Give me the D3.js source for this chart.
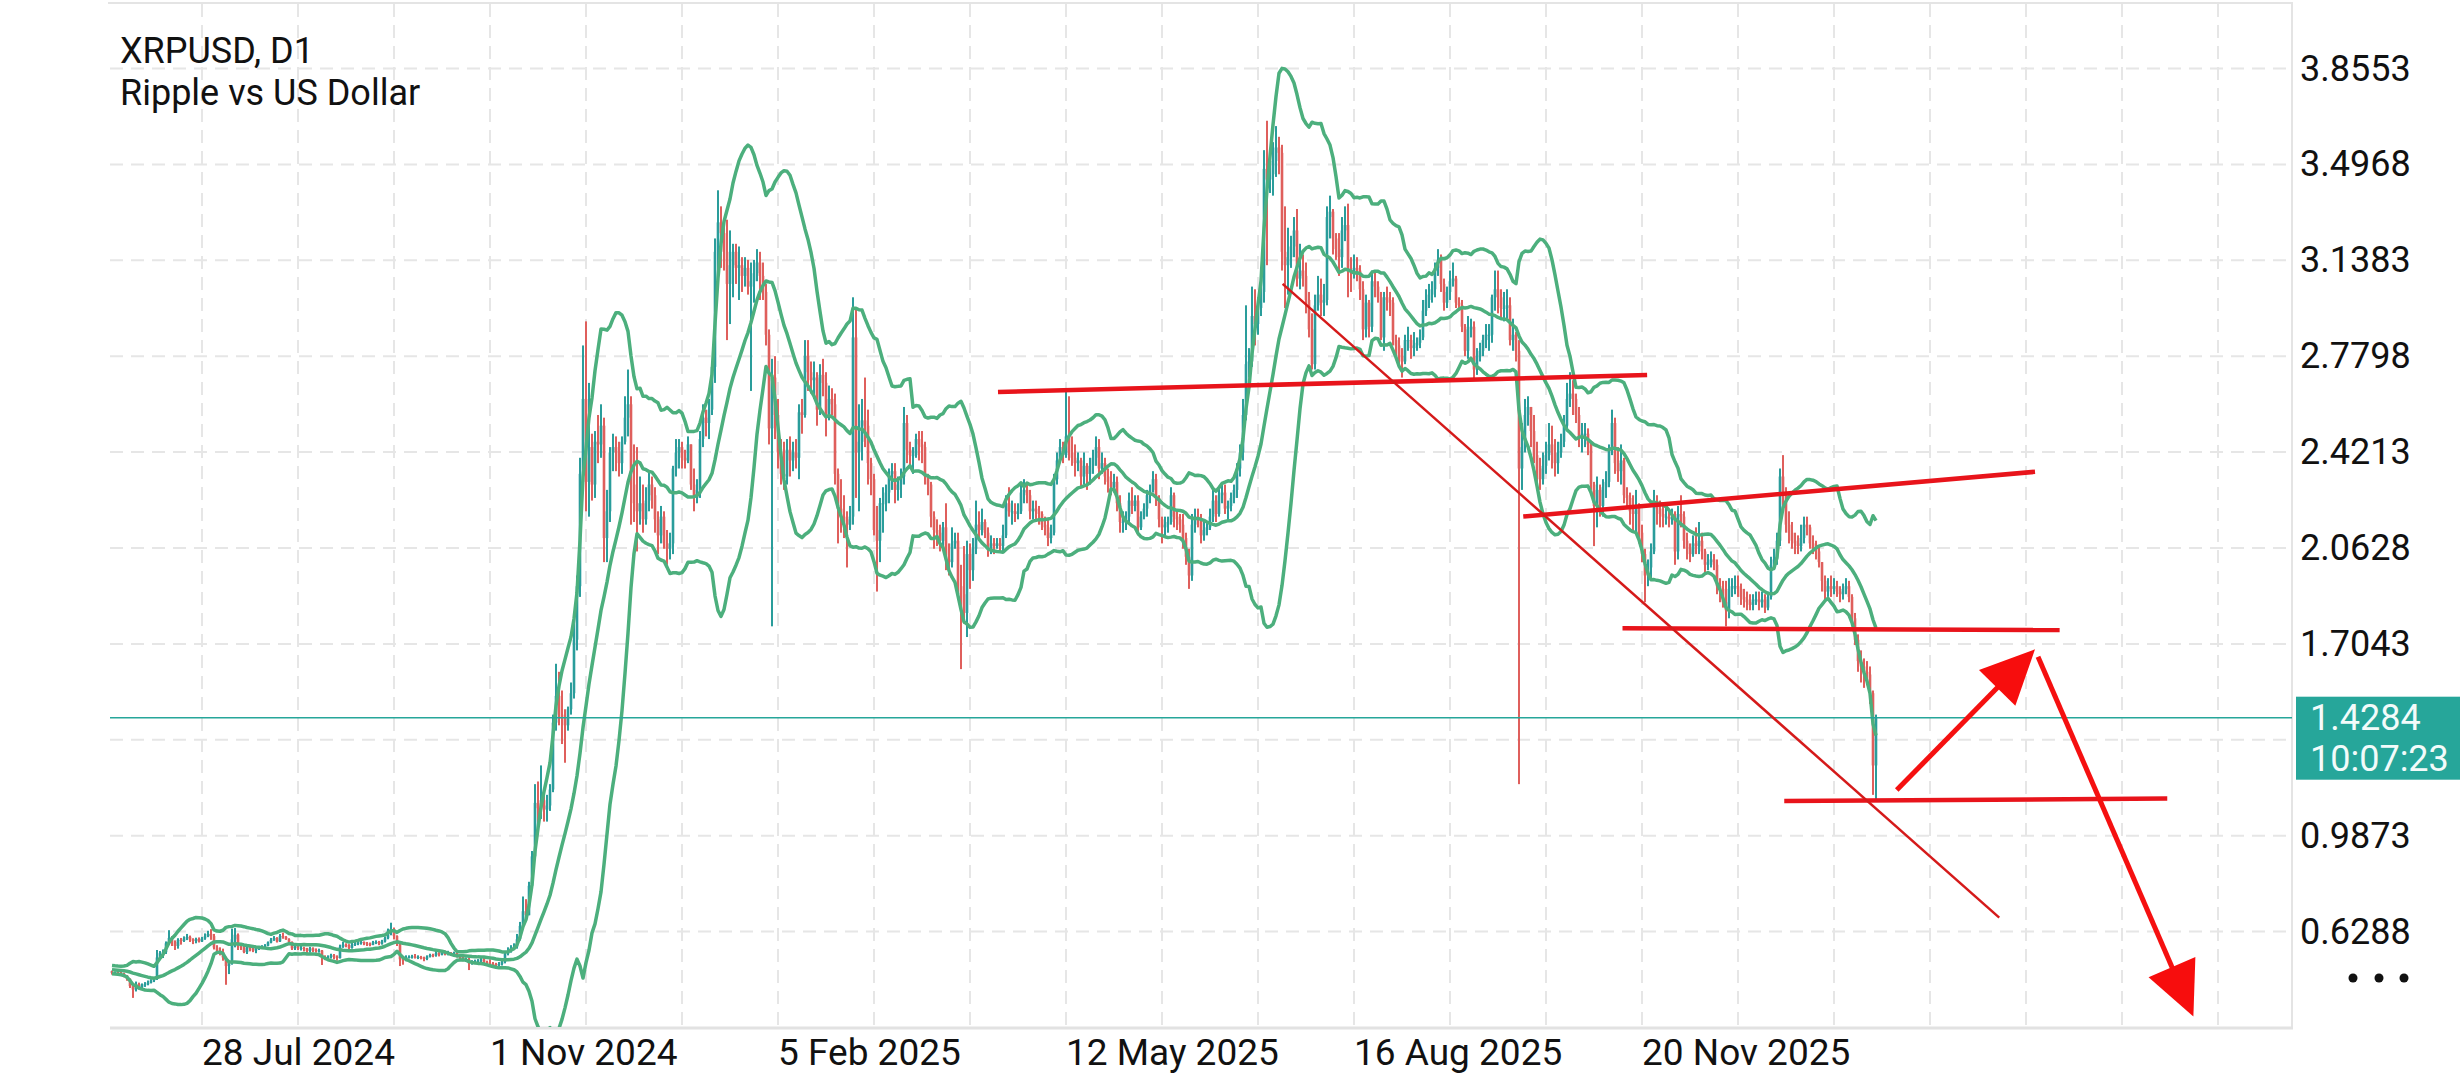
<!DOCTYPE html>
<html>
<head>
<meta charset="utf-8">
<title>XRPUSD, D1</title>
<script src="https://cdn.jsdelivr.net/npm/d3@7"></script>
<style>
  body { margin: 0; background: #fff; }
  text { font-family: Roboto, "Noto Sans", sans-serif; }
</style>
</head>
<body>
<div id="chart"></div>
<script>
// daily candles, first one on 9 Jun 2024 (the first 19 only feed the bands)
var firstDay = "2024-06-09";

var closes = [
  // Jun 2024 (9-30)
  0.497,0.495,0.490,0.491,0.485,0.481,0.492,0.498,0.484,0.493,0.491,0.494,0.490,0.490,0.476,0.473,0.481,0.475,0.480,0.476,0.476,0.474,
  // Jul 2024
  0.471,0.465,0.452,0.425,0.412,0.433,0.420,0.430,0.432,0.438,0.446,0.452,0.532,0.548,0.552,0.585,0.605,0.590,0.575,0.598,0.594,0.603,0.609,0.598,0.594,0.601,0.592,0.603,0.611,0.620,0.612,
  // Aug 2024
  0.569,0.558,0.552,0.532,0.500,0.512,0.600,0.617,0.573,0.570,0.552,0.570,0.565,0.558,0.565,0.568,0.572,0.576,0.588,0.598,0.605,0.592,0.612,0.609,0.600,0.590,0.566,0.573,0.568,0.568,0.565,
  // Sep 2024
  0.556,0.566,0.560,0.556,0.558,0.535,0.530,0.534,0.540,0.535,0.530,0.572,0.580,0.578,0.568,0.580,0.583,0.586,0.590,0.585,0.582,0.580,0.588,0.590,0.584,0.592,0.604,0.632,0.638,0.612,
  // Oct 2024
  0.587,0.525,0.522,0.533,0.534,0.536,0.533,0.534,0.530,0.527,0.535,0.541,0.540,0.548,0.543,0.550,0.546,0.550,0.545,0.548,0.538,0.532,0.525,0.525,0.510,0.515,0.518,0.520,0.525,0.515,0.510,
  // Nov 2024
  0.508,0.507,0.503,0.508,0.515,0.545,0.555,0.568,0.572,0.600,0.650,0.705,0.690,0.800,0.910,1.110,1.090,1.120,1.085,1.100,1.160,1.410,1.510,1.440,1.425,1.400,1.460,1.520,1.720,1.920,
  // Dec 2024
  2.340,2.620,2.310,2.440,2.300,2.460,2.450,2.520,2.100,2.200,2.420,2.440,2.420,2.380,2.460,2.550,2.600,2.300,2.230,2.200,2.230,2.170,2.240,2.300,2.260,2.170,2.110,2.180,2.080,2.060,2.080,
  // Jan 2025
  2.360,2.420,2.440,2.400,2.390,2.450,2.300,2.250,2.280,2.470,2.550,2.530,2.580,2.740,3.170,3.280,3.240,3.170,3.050,3.120,3.170,3.110,3.120,3.080,3.110,3.040,3.060,3.090,3.130,3.080,3.020,
  // Feb 2025
  2.860,2.510,2.700,2.560,2.420,2.340,2.330,2.430,2.390,2.420,2.400,2.570,2.560,2.780,2.720,2.690,2.700,2.580,2.710,2.680,2.560,2.620,2.600,2.340,2.210,2.180,2.170,2.150,
  // Mar 2025
  2.180,2.850,2.420,2.460,2.540,2.520,2.380,2.320,2.130,2.090,2.230,2.230,2.270,2.340,2.350,2.280,2.300,2.330,2.530,2.430,2.410,2.410,2.470,2.450,2.440,2.330,2.300,2.180,2.130,2.120,2.090,
  // Apr 2025
  2.140,2.020,2.010,2.080,2.090,1.920,1.890,1.820,2.040,1.980,2.060,2.150,2.130,2.160,2.120,2.060,2.080,2.070,2.080,2.070,2.110,2.230,2.200,2.200,2.190,2.200,2.270,2.280,2.260,2.200,
  // May 2025
  2.210,2.200,2.190,2.150,2.140,2.100,2.120,2.320,2.390,2.440,2.410,2.480,2.420,2.400,2.380,2.390,2.330,2.370,2.340,2.370,2.400,2.440,2.360,2.380,2.330,2.310,2.290,2.310,2.230,2.160,2.160,
  // Jun 2025
  2.180,2.240,2.220,2.240,2.140,2.180,2.210,2.260,2.280,2.320,2.250,2.170,2.140,2.150,2.160,2.260,2.180,2.170,2.150,2.100,2.030,1.960,2.150,2.180,2.170,2.110,2.130,2.140,2.180,2.240,
  // Jul 2025
  2.190,2.260,2.270,2.210,2.220,2.250,2.280,2.360,2.420,2.560,2.750,2.760,2.930,2.900,2.960,3.020,3.480,3.440,3.460,3.510,3.560,3.540,3.170,3.120,3.150,3.190,3.250,3.070,3.100,3.080,2.990,
  // Aug 2025
  2.880,2.750,2.970,3.010,2.980,2.990,3.300,3.320,3.220,3.180,3.150,3.250,3.270,3.100,3.090,3.110,3.100,3.030,2.880,2.980,2.890,3.060,3.040,3.000,2.850,3.000,2.990,2.980,2.840,2.820,2.780,
  // Sep 2025
  2.760,2.840,2.840,2.810,2.820,2.830,2.850,2.950,2.990,3.010,3.030,3.110,3.140,3.050,2.980,3.020,3.060,3.070,2.980,2.970,2.890,2.800,2.880,2.890,2.730,2.780,2.800,2.840,2.860,2.860,
  // Oct 2025
  3.000,3.030,3.000,2.960,2.960,2.970,2.840,2.860,2.800,2.360,2.440,2.560,2.590,2.500,2.410,2.360,2.320,2.370,2.410,2.450,2.420,2.380,2.420,2.460,2.520,2.620,2.640,2.620,2.560,2.480,2.490,
  // Nov 2025
  2.490,2.450,2.300,2.220,2.280,2.220,2.290,2.310,2.430,2.530,2.380,2.350,2.390,2.260,2.250,2.200,2.190,2.220,2.120,2.040,1.960,1.990,2.050,2.230,2.210,2.190,2.180,2.180,2.170,2.180,
  // Dec 2025
  2.050,2.190,2.180,2.090,2.060,2.040,2.080,2.070,2.090,2.050,2.000,2.010,2.020,2.000,1.920,1.910,1.860,1.830,1.910,1.920,1.920,1.910,1.880,1.870,1.860,1.850,1.870,1.870,1.860,1.870,1.840,
  // Jan 2026
  1.880,2.000,2.020,2.090,2.330,2.270,2.150,2.120,2.090,2.080,2.070,2.100,2.150,2.140,2.080,2.060,2.050,2.010,1.940,1.900,1.920,1.910,1.920,1.900,1.890,1.910,1.920,1.880,1.800,1.720,1.640,
  // Feb 2026 (1-6)
  1.620,1.600,1.590,1.520,1.250,1.4284
];

var highs = [
  0.500,0.500,0.497,0.496,0.494,0.488,0.495,0.502,0.500,0.496,0.497,0.499,0.496,0.494,0.492,0.480,0.488,0.484,0.486,0.483,0.480,0.482,
  0.479,0.475,0.466,0.454,0.432,0.442,0.438,0.435,0.440,0.446,0.451,0.458,0.560,0.556,0.562,0.592,0.634,0.612,0.596,0.604,0.605,0.611,0.620,0.614,0.604,0.606,0.607,0.609,0.622,0.632,0.638,
  0.620,0.578,0.570,0.565,0.535,0.520,0.640,0.642,0.622,0.580,0.575,0.578,0.575,0.570,0.572,0.575,0.578,0.582,0.592,0.605,0.612,0.608,0.620,0.625,0.612,0.604,0.592,0.580,0.582,0.575,0.572,
  0.568,0.572,0.570,0.566,0.565,0.560,0.540,0.540,0.546,0.545,0.540,0.580,0.590,0.585,0.582,0.588,0.592,0.595,0.598,0.592,0.590,0.588,0.594,0.596,0.594,0.598,0.610,0.640,0.662,0.644,
  0.615,0.590,0.535,0.540,0.540,0.542,0.545,0.540,0.538,0.535,0.540,0.546,0.546,0.556,0.552,0.556,0.558,0.557,0.552,0.554,0.552,0.542,0.535,0.532,0.530,0.522,0.524,0.526,0.530,0.530,0.520,
  0.525,0.515,0.512,0.515,0.522,0.555,0.570,0.578,0.585,0.620,0.665,0.760,0.750,0.815,0.930,1.180,1.190,1.250,1.160,1.140,1.180,1.440,1.630,1.600,1.530,1.460,1.470,1.560,1.780,1.960,
  2.400,2.820,2.910,2.680,2.490,2.500,2.560,2.600,2.550,2.280,2.440,2.490,2.480,2.460,2.480,2.630,2.730,2.630,2.450,2.440,2.330,2.300,2.290,2.350,2.330,2.290,2.200,2.220,2.200,2.130,2.120,
  2.370,2.470,2.470,2.460,2.430,2.480,2.420,2.360,2.320,2.500,2.600,2.580,2.620,2.760,3.220,3.400,3.340,3.280,3.290,3.250,3.200,3.200,3.190,3.150,3.150,3.140,3.130,3.140,3.180,3.170,3.130,
  3.050,2.880,2.770,2.780,2.620,2.470,2.460,2.470,2.480,2.460,2.470,2.600,2.620,2.840,2.840,2.760,2.760,2.720,2.750,2.770,2.720,2.670,2.660,2.640,2.360,2.320,2.260,2.200,
  2.220,3.000,2.960,2.600,2.620,2.700,2.580,2.400,2.340,2.220,2.250,2.290,2.300,2.360,2.380,2.380,2.330,2.360,2.590,2.560,2.460,2.440,2.490,2.500,2.500,2.460,2.340,2.310,2.200,2.170,2.150,
  2.160,2.230,2.080,2.140,2.120,2.120,2.000,2.070,2.090,2.080,2.100,2.240,2.200,2.210,2.170,2.140,2.110,2.100,2.100,2.100,2.150,2.260,2.290,2.240,2.230,2.230,2.310,2.320,2.300,2.280,
  2.240,2.240,2.220,2.200,2.180,2.170,2.150,2.340,2.420,2.470,2.460,2.650,2.630,2.480,2.450,2.420,2.400,2.420,2.380,2.400,2.430,2.480,2.470,2.420,2.400,2.360,2.350,2.340,2.330,2.260,2.200,
  2.200,2.270,2.290,2.260,2.260,2.200,2.230,2.280,2.300,2.350,2.340,2.260,2.180,2.180,2.180,2.290,2.270,2.200,2.190,2.190,2.120,2.060,2.190,2.210,2.210,2.190,2.160,2.160,2.210,2.280,
  2.260,2.290,2.300,2.300,2.240,2.270,2.300,2.380,2.450,2.620,2.970,2.810,3.040,3.030,3.000,3.090,3.550,3.660,3.520,3.580,3.640,3.600,3.570,3.340,3.260,3.230,3.300,3.330,3.200,3.160,3.130,
  3.020,2.940,3.010,3.080,3.070,3.050,3.340,3.380,3.330,3.240,3.240,3.300,3.340,3.350,3.150,3.160,3.150,3.120,3.060,3.010,2.990,3.100,3.100,3.060,3.020,3.020,3.040,3.020,3.000,2.860,2.850,
  2.810,2.860,2.890,2.860,2.870,2.850,2.880,2.990,3.030,3.050,3.060,3.130,3.180,3.160,3.070,3.040,3.100,3.130,3.080,3.000,2.990,2.900,2.930,2.920,2.910,2.810,2.830,2.860,2.900,2.900,
  3.010,3.100,3.100,3.030,3.020,3.030,3.000,2.920,2.870,2.840,2.530,2.620,2.630,2.590,2.560,2.460,2.400,2.420,2.460,2.530,2.520,2.470,2.460,2.490,2.560,2.680,2.720,2.690,2.640,2.590,2.530,
  2.530,2.510,2.460,2.310,2.330,2.300,2.320,2.350,2.450,2.580,2.550,2.440,2.450,2.400,2.290,2.270,2.260,2.280,2.230,2.150,2.060,2.020,2.080,2.280,2.260,2.240,2.230,2.230,2.210,2.210,
  2.200,2.220,2.260,2.200,2.120,2.080,2.110,2.140,2.160,2.120,2.060,2.040,2.050,2.040,2.020,1.950,1.940,1.940,1.950,1.950,1.960,1.960,1.930,1.910,1.900,1.890,1.890,1.900,1.900,1.900,1.890,
  1.900,2.030,2.060,2.120,2.360,2.410,2.290,2.200,2.160,2.120,2.110,2.150,2.180,2.180,2.150,2.110,2.090,2.070,2.010,1.960,1.950,1.960,1.950,1.940,1.920,1.930,1.950,1.940,1.890,1.820,1.740,
  1.680,1.650,1.640,1.620,1.530,1.440
];

var lows = [
  0.490,0.488,0.481,0.485,0.480,0.470,0.478,0.488,0.475,0.480,0.486,0.486,0.485,0.485,0.472,0.462,0.470,0.471,0.472,0.468,0.470,0.470,
  0.463,0.458,0.445,0.418,0.381,0.405,0.412,0.415,0.422,0.428,0.435,0.440,0.448,0.522,0.530,0.545,0.579,0.575,0.560,0.565,0.580,0.590,0.597,0.590,0.582,0.585,0.588,0.590,0.598,0.608,0.598,
  0.562,0.548,0.540,0.520,0.430,0.470,0.505,0.570,0.560,0.560,0.548,0.545,0.555,0.552,0.548,0.560,0.565,0.568,0.574,0.585,0.594,0.588,0.590,0.602,0.598,0.585,0.560,0.560,0.560,0.558,0.555,
  0.548,0.550,0.552,0.550,0.550,0.504,0.522,0.524,0.528,0.525,0.520,0.528,0.568,0.570,0.560,0.565,0.575,0.578,0.580,0.578,0.575,0.574,0.578,0.582,0.578,0.580,0.588,0.600,0.615,0.600,
  0.575,0.500,0.505,0.518,0.528,0.528,0.528,0.526,0.525,0.518,0.522,0.532,0.533,0.535,0.536,0.540,0.540,0.540,0.540,0.540,0.532,0.522,0.518,0.515,0.485,0.505,0.510,0.512,0.515,0.508,0.500,
  0.500,0.495,0.490,0.495,0.502,0.510,0.540,0.550,0.560,0.565,0.595,0.640,0.670,0.700,0.790,0.900,1.020,1.050,1.040,1.040,1.080,1.150,1.380,1.400,1.330,1.260,1.380,1.440,1.500,1.680,
  1.880,2.300,2.200,2.180,2.240,2.250,2.380,2.400,2.010,2.010,2.160,2.350,2.350,2.330,2.340,2.450,2.480,2.150,2.160,2.050,2.150,2.120,2.150,2.200,2.210,2.120,2.040,2.080,2.060,2.000,2.020,
  2.040,2.330,2.360,2.360,2.360,2.380,2.280,2.200,2.230,2.250,2.440,2.480,2.470,2.560,2.680,3.050,3.110,3.100,2.840,2.900,3.000,3.050,2.990,3.020,3.040,3.010,2.650,2.980,3.060,2.990,2.990,
  2.820,2.450,1.770,2.470,2.360,2.300,2.280,2.300,2.330,2.350,2.360,2.320,2.490,2.550,2.650,2.640,2.620,2.520,2.560,2.630,2.480,2.540,2.560,2.300,2.080,2.120,2.100,1.990,
  2.130,2.150,2.250,2.200,2.390,2.440,2.300,2.260,2.110,1.900,2.010,2.120,2.200,2.230,2.280,2.230,2.240,2.250,2.300,2.380,2.370,2.340,2.400,2.390,2.380,2.300,2.260,2.140,2.060,2.070,2.050,
  2.070,1.980,1.960,1.990,2.060,1.880,1.610,1.780,1.730,1.910,1.940,2.040,2.100,2.110,2.100,2.030,2.040,2.040,2.060,2.050,2.050,2.100,2.180,2.150,2.160,2.170,2.190,2.230,2.230,2.170,
  2.170,2.160,2.150,2.130,2.110,2.070,2.080,2.110,2.300,2.380,2.380,2.400,2.390,2.370,2.330,2.350,2.290,2.300,2.280,2.300,2.340,2.370,2.320,2.340,2.300,2.270,2.260,2.270,2.200,2.120,2.120,
  2.130,2.150,2.190,2.200,2.110,2.130,2.170,2.180,2.230,2.270,2.220,2.140,2.080,2.110,2.120,2.150,2.140,2.130,2.120,2.060,2.000,1.910,1.940,2.120,2.140,2.080,2.090,2.110,2.130,2.160,
  2.160,2.180,2.230,2.190,2.170,2.200,2.230,2.250,2.330,2.390,2.540,2.700,2.740,2.820,2.860,2.930,2.980,3.120,3.390,3.380,3.450,3.460,3.100,2.960,3.010,3.110,3.150,3.040,3.030,3.040,2.940,
  2.850,2.730,2.730,2.950,2.930,2.930,2.970,3.220,3.160,3.140,3.080,3.110,3.210,3.000,3.020,3.070,3.060,2.990,2.840,2.850,2.850,2.870,3.000,2.980,2.840,2.800,2.950,2.930,2.820,2.770,2.740,
  2.700,2.750,2.800,2.770,2.780,2.800,2.810,2.840,2.930,2.960,2.980,3.000,3.080,3.020,2.950,2.960,2.990,3.040,2.960,2.950,2.870,2.780,2.770,2.850,2.690,2.710,2.760,2.780,2.810,2.800,
  2.830,2.950,2.940,2.920,2.910,2.920,2.820,2.800,2.760,1.180,2.280,2.420,2.520,2.440,2.380,2.310,2.280,2.300,2.340,2.390,2.360,2.330,2.340,2.400,2.440,2.510,2.590,2.560,2.530,2.440,2.420,
  2.440,2.410,2.280,2.070,2.140,2.180,2.180,2.250,2.290,2.410,2.340,2.310,2.300,2.230,2.210,2.150,2.130,2.120,2.080,2.010,1.860,1.920,1.950,2.040,2.150,2.140,2.140,2.150,2.140,2.150,
  2.000,2.020,2.140,2.060,2.020,2.010,2.030,2.040,2.040,2.020,1.970,1.980,1.990,1.980,1.890,1.860,1.840,1.770,1.800,1.880,1.890,1.880,1.850,1.840,1.830,1.830,1.830,1.850,1.830,1.840,1.820,
  1.830,1.870,1.980,2.000,2.070,2.220,2.120,2.080,2.060,2.040,2.040,2.050,2.080,2.110,2.060,2.040,2.020,1.990,1.900,1.870,1.880,1.880,1.890,1.880,1.860,1.870,1.890,1.860,1.790,1.700,1.600,
  1.560,1.540,1.550,1.480,1.140,1.120
];

// price scale: grid levels, and the labels the scale shows (1.3458 sits under the price box)
var priceTicks = [3.8553, 3.4968, 3.1383, 2.7798, 2.4213, 2.0628, 1.7043, 1.3458, 0.9873, 0.6288];
var priceLabels = ["3.8553", "3.4968", "3.1383", "2.7798", "2.4213", "2.0628", "1.7043", "0.9873", "0.6288"];
var dateLabels = ["28 Jul 2024", "1 Nov 2024", "5 Feb 2025", "12 May 2025", "16 Aug 2025", "20 Nov 2025"];
var gridDays = 32;   // vertical grid every 32 days, a label every third line
var gridCount = 22;

// visible window
var viewFrom = "2024-06-27T08:00", viewTo = "2026-06-24T08:00";
var priceFrom = 0.2684, priceTo = 4.0927;

var lastPrice = 1.4284;
var lastTime = "10:07:23";

// hand drawn levels (date, price)
var levelLines = [
  [["2025-04-19T08:00", 2.646], ["2025-11-21T17:00", 2.7095]],
  [["2025-10-11T10:00", 2.1805], ["2026-03-31T00:00", 2.3477]],
  [["2025-11-13T12:00", 1.7626], ["2026-04-08T05:00", 1.7559]],
  [["2026-01-06T10:00", 1.1170], ["2026-05-14T02:00", 1.1263]]
];
var trendLine = [["2025-07-23T05:00", 3.050], ["2026-03-19T02:00", 0.681]];
var arrows = [
  [["2026-02-12T22:00", 1.158], ["2026-03-31T00:00", 1.684]],
  [["2026-04-01T00:00", 1.656], ["2026-05-22T19:00", 0.311]]
];

function init(){

  var W = 2460, H = 1080;
  var left = 110, right = 2292, top = 4, bottom = 1028;

  var svg = d3.select("#chart")
    .append("svg")
      .attr("width", W)
      .attr("height", H)
      .style("display", "block");

  var parseT = d3.utcParse("%Y-%m-%dT%H:%M");
  var parseD = d3.utcParse("%Y-%m-%d");
  var parseLabel = d3.utcParse("%d %b %Y");

  var x = d3.scaleUtc()
    .domain([parseT(viewFrom), parseT(viewTo)])
    .range([left, right - 1]);
  var y = d3.scaleLinear()
    .domain([priceFrom, priceTo])
    .range([bottom, top + 1]);

  // build candles, open = previous close
  var start = parseD(firstDay);
  var candles = closes.map(function(c, i){
    var o = i > 0 ? closes[i - 1] : c;
    return {
      date: d3.utcDay.offset(start, i),
      o: o, c: c,
      h: Math.max(highs[i], o, c),
      l: Math.min(lows[i], o, c)
    };
  });

  // bollinger bands 20, 2
  var bands = [];
  for (var i = 19; i < closes.length; i++){
    var win = closes.slice(i - 19, i + 1);
    var m = d3.mean(win);
    var sd = Math.sqrt(d3.mean(win, function(v){ return (v - m) * (v - m); }));
    bands.push({date: candles[i].date, mid: m, up: m + 2 * sd, lo: m - 2 * sd});
  }

  // grid
  var grid = svg.append("g");
  grid.selectAll("hgrid")
    .data(priceTicks)
    .enter()
    .append("line")
      .attr("x1", left).attr("x2", right)
      .attr("y1", function(d){ return y(d); })
      .attr("y2", function(d){ return y(d); })
      .attr("stroke", "#e6e6e6")
      .attr("stroke-width", 2)
      .attr("stroke-dasharray", "13,8");

  var firstGrid = parseLabel(dateLabels[0]);
  var gridDates = d3.range(gridCount).map(function(k){ return d3.utcDay.offset(firstGrid, k * gridDays); });
  grid.selectAll("vgrid")
    .data(gridDates)
    .enter()
    .append("line")
      .attr("x1", function(d){ return x(d); })
      .attr("x2", function(d){ return x(d); })
      .attr("y1", top).attr("y2", bottom)
      .attr("stroke", "#e6e6e6")
      .attr("stroke-width", 2)
      .attr("stroke-dasharray", "13,8");

  // frame
  svg.append("line").attr("x1", left - 2).attr("x2", right + 1).attr("y1", 3).attr("y2", 3)
    .attr("stroke", "#e4e4e4").attr("stroke-width", 2);
  svg.append("line").attr("x1", right).attr("x2", right).attr("y1", 2).attr("y2", bottom)
    .attr("stroke", "#e4e4e4").attr("stroke-width", 2);
  svg.append("line").attr("x1", left).attr("x2", right + 1).attr("y1", bottom).attr("y2", bottom)
    .attr("stroke", "#e2e2e2").attr("stroke-width", 3);

  // title
  svg.append("text").attr("x", 120).attr("y", 63)
    .style("font-size", "36px").style("fill", "#111")
    .text("XRPUSD, D1");
  svg.append("text").attr("x", 120).attr("y", 105)
    .style("font-size", "36px").style("fill", "#111")
    .text("Ripple vs US Dollar");

  svg.append("clipPath").attr("id", "plot")
    .append("rect").attr("x", left).attr("y", top).attr("width", right - left).attr("height", bottom - top - 1);

  var plot = svg.append("g").attr("clip-path", "url(#plot)");

  // candles
  var cg = plot.selectAll("candle")
    .data(candles)
    .enter()
    .append("g")
      .style("fill", function(d){ return d.c >= d.o ? "#2a9d9b" : "#df5f5c"; });
  cg.append("rect")
    .attr("x", function(d){ return x(d.date) - 1; })
    .attr("y", function(d){ return y(d.h); })
    .attr("width", 2)
    .attr("height", function(d){ return Math.max(1, y(d.l) - y(d.h)); });
  cg.append("rect")
    .attr("x", function(d){ return x(d.date) - 1.3; })
    .attr("y", function(d){ return y(Math.max(d.o, d.c)); })
    .attr("width", 2.6)
    .attr("height", function(d){ return Math.max(1, Math.abs(y(d.o) - y(d.c))); });

  // bands
  ["up", "mid", "lo"].forEach(function(k){
    plot.append("path")
      .datum(bands)
      .attr("fill", "none")
      .attr("stroke", "#4caf7d")
      .attr("stroke-width", 3.5)
      .attr("stroke-linejoin", "round")
      .attr("d", d3.line()
        .x(function(d){ return x(d.date); })
        .y(function(d){ return y(d[k]); }));
  });

  // current price line
  svg.append("line")
    .attr("x1", left).attr("x2", right)
    .attr("y1", y(lastPrice)).attr("y2", y(lastPrice))
    .attr("stroke", "#26a69a")
    .attr("stroke-width", 1.6);

  // drawn objects
  var px = function(p){ return [x(parseT(p[0])), y(p[1])]; };

  svg.selectAll("level")
    .data(levelLines)
    .enter()
    .append("line")
      .attr("x1", function(d){ return px(d[0])[0]; })
      .attr("y1", function(d){ return px(d[0])[1]; })
      .attr("x2", function(d){ return px(d[1])[0]; })
      .attr("y2", function(d){ return px(d[1])[1]; })
      .attr("stroke", "#e8141b")
      .attr("stroke-width", 4.5);

  svg.append("line")
    .attr("x1", px(trendLine[0])[0]).attr("y1", px(trendLine[0])[1])
    .attr("x2", px(trendLine[1])[0]).attr("y2", px(trendLine[1])[1])
    .attr("stroke", "#d51a1a")
    .attr("stroke-width", 2.5);

  arrows.forEach(function(a){
    var p0 = px(a[0]), p1 = px(a[1]);
    var dx = p1[0] - p0[0], dy = p1[1] - p0[1];
    var len = Math.sqrt(dx * dx + dy * dy);
    var ux = dx / len, uy = dy / len;
    var headL = 54, headW = 25.5;
    var bx = p1[0] - ux * headL, by = p1[1] - uy * headL;
    svg.append("line")
      .attr("x1", p0[0]).attr("y1", p0[1])
      .attr("x2", bx + ux * 4).attr("y2", by + uy * 4)
      .attr("stroke", "#f51010")
      .attr("stroke-width", 5);
    svg.append("path")
      .attr("d", "M" + p1[0] + "," + p1[1] +
                 "L" + (bx - uy * headW) + "," + (by + ux * headW) +
                 "L" + (bx + uy * headW) + "," + (by - ux * headW) + "Z")
      .attr("fill", "#f70d0d");
  });

  // price scale
  svg.selectAll("plabel")
    .data(priceLabels)
    .enter()
    .append("text")
      .attr("x", 2300)
      .attr("y", function(d){ return y(+d) + 12; })
      .style("font-size", "36px")
      .style("fill", "#111")
      .text(function(d){ return d; });

  var boxTop = y(lastPrice) - 21;
  svg.append("rect")
    .attr("x", 2296).attr("y", boxTop)
    .attr("width", W - 2296).attr("height", 83)
    .attr("fill", "#26a69a");
  svg.append("text").attr("x", 2310).attr("y", boxTop + 33)
    .style("font-size", "36px").style("fill", "#f2fbfa")
    .text(lastPrice.toFixed(4));
  svg.append("text").attr("x", 2310).attr("y", boxTop + 74)
    .style("font-size", "36px").style("fill", "#f2fbfa")
    .text(lastTime);

  svg.selectAll("dots")
    .data([2353, 2379, 2404])
    .enter()
    .append("circle")
      .attr("cx", function(d){ return d; })
      .attr("cy", 978)
      .attr("r", 4.5)
      .attr("fill", "#111");

  // date labels
  svg.selectAll("dlabel")
    .data(dateLabels)
    .enter()
    .append("text")
      .attr("x", function(d){ return x(parseLabel(d)); })
      .attr("y", 1065)
      .style("font-size", "37px")
      .style("fill", "#111")
      .text(function(d){ return d; });
}
window.onload = init;
</script>
</body>
</html>
